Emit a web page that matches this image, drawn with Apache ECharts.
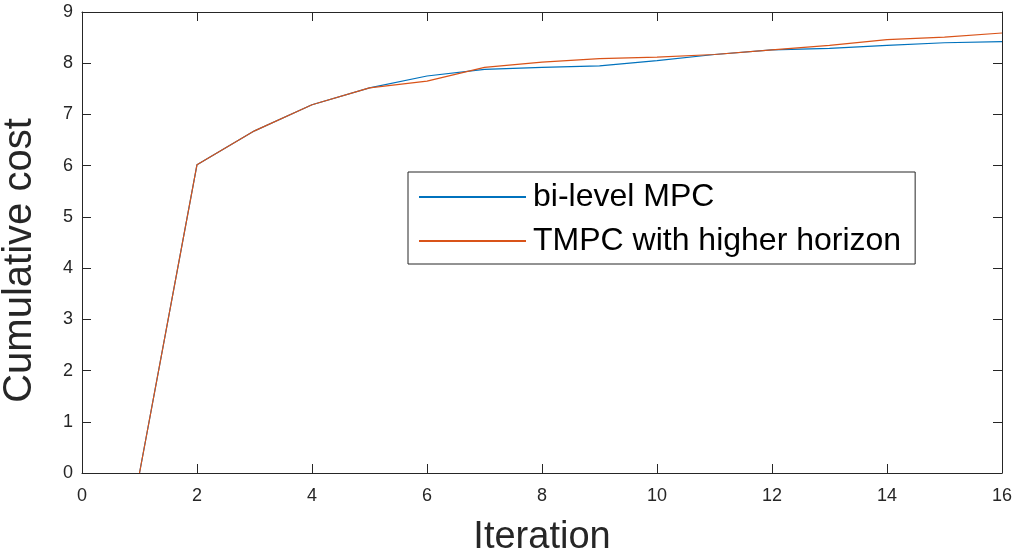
<!DOCTYPE html>
<html>
<head>
<meta charset="utf-8">
<script src="https://cdn.jsdelivr.net/npm/echarts@6/dist/echarts.min.js"></script>
<style>
html,body{margin:0;padding:0;background:#fff;}
#chart{width:1027px;height:554px;}
</style>
</head>
<body>
<div id="chart"></div>
<script>
const iterations = [1,2,3,4,5,6,7,8,9,10,11,12,13,14,15,16];
const biLevelMPC = [0, 6.02, 6.68, 7.19, 7.52, 7.75, 7.88, 7.92, 7.95, 8.05, 8.17, 8.26, 8.29, 8.35, 8.40, 8.42];
const tmpcHigher = [0, 6.02, 6.68, 7.19, 7.52, 7.65, 7.92, 8.02, 8.09, 8.12, 8.17, 8.26, 8.35, 8.46, 8.51, 8.59];
const seriesNames = ['bi-level MPC', 'TMPC with higher horizon'];
const xTitle = 'Iteration';
const yTitle = 'Cumulative cost';

const FONT = 'Liberation Sans, Arial, Helvetica, sans-serif';
const AX = '#262626';
const chart = echarts.init(document.getElementById('chart'), null, {renderer: 'canvas'});

function pairs(ys){ return iterations.map((x,i)=>[x, ys[i]]); }

const baseX = {
  type: 'value', min: 0, max: 16, interval: 2,
  axisLine: {show: true, onZero: false, lineStyle: {color: AX, width: 1}},
  axisTick: {show: true, inside: true, length: 9, lineStyle: {color: AX}},
  splitLine: {show: false}
};
const baseY = {
  type: 'value', min: 0, max: 9, interval: 1,
  axisLine: {show: true, onZero: false, lineStyle: {color: AX, width: 1}},
  axisTick: {show: true, inside: true, length: 9, lineStyle: {color: AX}},
  splitLine: {show: false}
};

chart.setOption({
  animation: false,
  backgroundColor: '#fff',
  grid: {left: 82, right: 25, top: 12, bottom: 81, containLabel: false, outerBoundsMode: 'none'},
  xAxis: [
    Object.assign({}, baseX, {
      position: 'bottom',
      name: xTitle, nameLocation: 'middle', nameGap: 46,
      nameTextStyle: {fontFamily: FONT, fontSize: 38, color: AX},
      axisLabel: {fontFamily: FONT, fontSize: 18, color: AX, margin: 14}
    }),
    Object.assign({}, baseX, {position: 'top', axisLabel: {show: false}})
  ],
  yAxis: [
    Object.assign({}, baseY, {
      position: 'left',
      name: yTitle, nameLocation: 'middle', nameGap: 42,
      nameTextStyle: {fontFamily: FONT, fontSize: 40, color: AX, padding: [0, 36, 0, 0]},
      axisLabel: {fontFamily: FONT, fontSize: 18, color: AX, margin: 9}
    }),
    Object.assign({}, baseY, {position: 'right', axisLabel: {show: false}})
  ],
  legend: {
    orient: 'vertical',
    left: 408, top: 172,
    padding: [9, 14, 7, 11],
    itemGap: 12,
    itemWidth: 107, itemHeight: 2,
    icon: 'rect',
    backgroundColor: '#fff',
    borderColor: AX, borderWidth: 1,
    textStyle: {fontFamily: FONT, fontSize: 32, color: '#000', padding: [0,0,0,2]},
    data: seriesNames
  },
  series: [
    {name: seriesNames[0], type: 'line', data: pairs(biLevelMPC), symbol: 'none',
     lineStyle: {color: '#0072BD', width: 1.2}, itemStyle: {color: '#0072BD'}},
    {name: seriesNames[1], type: 'line', data: pairs(tmpcHigher), symbol: 'none',
     lineStyle: {color: '#D95319', width: 1.2}, itemStyle: {color: '#D95319'}}
  ]
});
</script>
</body>
</html>
